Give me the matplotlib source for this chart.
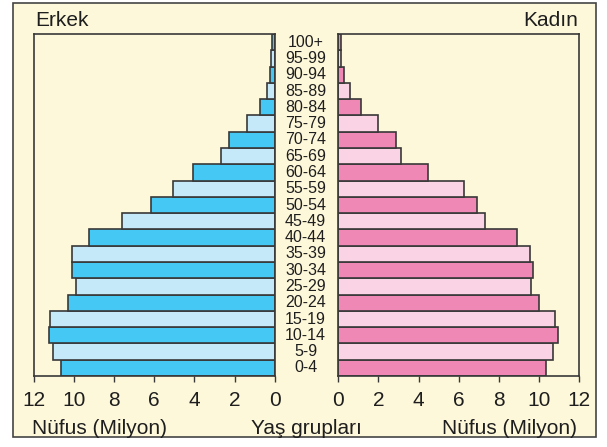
import matplotlib.pyplot as plt
from matplotlib.patches import Rectangle

# Yaş grupları, alttan üste
YAS_GRUPLARI = ["0-4", "5-9", "10-14", "15-19", "20-24", "25-29", "30-34",
                "35-39", "40-44", "45-49", "50-54", "55-59", "60-64", "65-69",
                "70-74", "75-79", "80-84", "85-89", "90-94", "95-99", "100+"]

# Nüfus (milyon)
ERKEK = [10.63, 11.01, 11.24, 11.18, 10.3, 9.9, 10.07, 10.07, 9.24, 7.61,
         6.17, 5.06, 4.06, 2.67, 2.26, 1.39, 0.75, 0.38, 0.22, 0.17, 0.12]
KADIN = [10.37, 10.72, 10.95, 10.82, 10.02, 9.59, 9.69, 9.57, 8.89, 7.31,
         6.9, 6.28, 4.45, 3.14, 2.89, 1.96, 1.15, 0.6, 0.28, 0.13, 0.12]

TICKS = [0, 2, 4, 6, 8, 10, 12]

BG = "#fef8da"
EDGE = "#383838"
MAVI = ["#45c8f3", "#c6e9f9"]
PEMBE = ["#f088b6", "#fad3e5"]
YAZI = "#1e1e1e"

plt.rcParams["font.family"] = ["Liberation Sans", "DejaVu Sans"]

fig = plt.figure(figsize=(6.07, 4.47), dpi=100)
fig.patch.set_facecolor("white")

# dış çerçeve
fig.patches.append(Rectangle((0.0206, 0.0224), 0.9614, 0.9698, transform=fig.transFigure,
                             facecolor=BG, edgecolor="#444444", linewidth=1.2, zorder=-5))

ax_l = fig.add_axes([0.0552, 0.1588, 0.3974, 0.7651])
ax_r = fig.add_axes([0.5573, 0.1588, 0.3965, 0.7651])

y = list(range(len(YAS_GRUPLARI)))
renk_m = [MAVI[i % 2] for i in y]
renk_k = [PEMBE[i % 2] for i in y]

ax_l.barh(y, ERKEK, height=1.0, color=renk_m, edgecolor=EDGE, linewidth=1.2)
ax_r.barh(y, KADIN, height=1.0, color=renk_k, edgecolor=EDGE, linewidth=1.2)

ax_l.set_xlim(12, 0)
ax_r.set_xlim(0, 12)

for ax in (ax_l, ax_r):
    ax.set_facecolor(BG)
    ax.set_ylim(-0.5, len(YAS_GRUPLARI) - 0.5)
    ax.set_yticks([])
    ax.set_xticks(TICKS)
    ax.set_xticklabels([str(t) for t in TICKS])
    ax.tick_params(axis="x", direction="out", length=4.5, width=1.0, color=EDGE,
                   labelsize=15, pad=6, labelcolor=YAZI)
    for s in ax.spines.values():
        s.set_color(EDGE)
        s.set_linewidth(1.2)

# yaş etiketleri ortada
for i, lab in enumerate(YAS_GRUPLARI):
    yy = 0.1588 + 0.7651 * (i + 0.5) / len(YAS_GRUPLARI)
    fig.text(305.5 / 607, yy, lab, ha="center", va="center", fontsize=11.5, color=YAZI)

fig.text(35 / 607, 1 - 20 / 447, "Erkek", ha="left", va="center", fontsize=15, color=YAZI)
fig.text(578 / 607, 1 - 20 / 447, "Kadın", ha="right", va="center", fontsize=15, color=YAZI)
fig.text(32.5 / 607, 1 - 428 / 447, "Nüfus (Milyon)", ha="left", va="center", fontsize=15, color=YAZI)
fig.text(577 / 607, 1 - 428 / 447, "Nüfus (Milyon)", ha="right", va="center", fontsize=15, color=YAZI)
fig.text(306.5 / 607, 1 - 428 / 447, "Yaş grupları", ha="center", va="center", fontsize=15, color=YAZI)

fig.savefig("out.png", dpi=100, facecolor=fig.get_facecolor())
